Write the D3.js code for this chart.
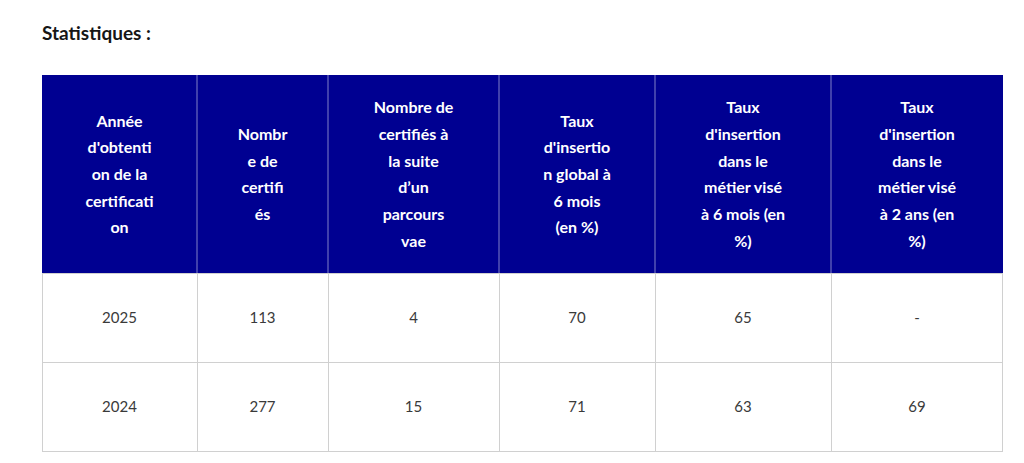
<!DOCTYPE html>
<html><head><meta charset="utf-8">
<script src="https://cdn.jsdelivr.net/npm/d3@7"></script>
<style>body{margin:0;background:#fff}</style></head>
<body><svg id="c" width="1024" height="463"></svg>
<script>
(function(){
const title = "Statistiques :";
const headers = [
  ["Année","d'obtenti","on de la","certificati","on"],
  ["Nombr","e de","certifi","és"],
  ["Nombre de","certifiés à","la suite","d’un","parcours","vae"],
  ["Taux","d'insertio","n global à","6 mois","(en %)"],
  ["Taux","d'insertion","dans le","métier visé","à 6 mois (en","%)"],
  ["Taux","d'insertion","dans le","métier visé","à 2 ans (en","%)"]
];
const row2025 = ["2025","113","4","70","65","-"];
const row2024 = ["2024","277","15","71","63","69"];
const rows = [row2025, row2024];
const colEdges = [42,197,328,499,655,831,1003];

const svg = d3.select("#c");
const font = "Lato, 'Noto Sans', sans-serif";
svg.append("text").attr("x",42).attr("y",40).text(title)
  .attr("font-family",font).attr("font-weight",700).attr("font-size",19).attr("fill","#161616");

const tableTop=75, hH=198, rH=89;
const x = i => colEdges[i];
svg.append("rect").attr("x",42).attr("y",tableTop).attr("width",961).attr("height",hH).attr("fill","#000091");
headers.forEach((lines,i)=>{
  const cx=(x(i)+x(i+1))/2, lh=26.7, cy=tableTop+hH/2;
  const t=svg.append("text").attr("text-anchor","middle").attr("font-family",font)
    .attr("font-weight",700).attr("font-size",16).attr("fill","#fff");
  lines.forEach((l,j)=>t.append("tspan").attr("x",cx)
    .attr("y",cy+(j-(lines.length-1)/2)*lh+6).text(l));
});
colEdges.slice(1,-1).forEach(e=>svg.append("line").attr("x1",e).attr("x2",e)
  .attr("y1",tableTop).attr("y2",tableTop+hH).attr("stroke","#ffffff").attr("stroke-opacity",0.5));
rows.forEach((r,k)=>{
  const y0=tableTop+hH+k*rH;
  svg.append("rect").attr("x",42.5).attr("y",y0+0.5).attr("width",960).attr("height",rH)
    .attr("fill","#fff").attr("stroke","#d0d0d0");
  r.forEach((v,i)=>{
    svg.append("text").attr("x",(x(i)+x(i+1))/2).attr("y",y0+rH/2+5)
      .attr("text-anchor","middle").attr("font-family",font).attr("font-size",15)
      .attr("fill","#3a3a3a").text(v);
    if(i>0) svg.append("line").attr("x1",x(i)+0.5).attr("x2",x(i)+0.5)
      .attr("y1",y0).attr("y2",y0+rH).attr("stroke","#d0d0d0");
  });
});
})();
</script></body></html>
